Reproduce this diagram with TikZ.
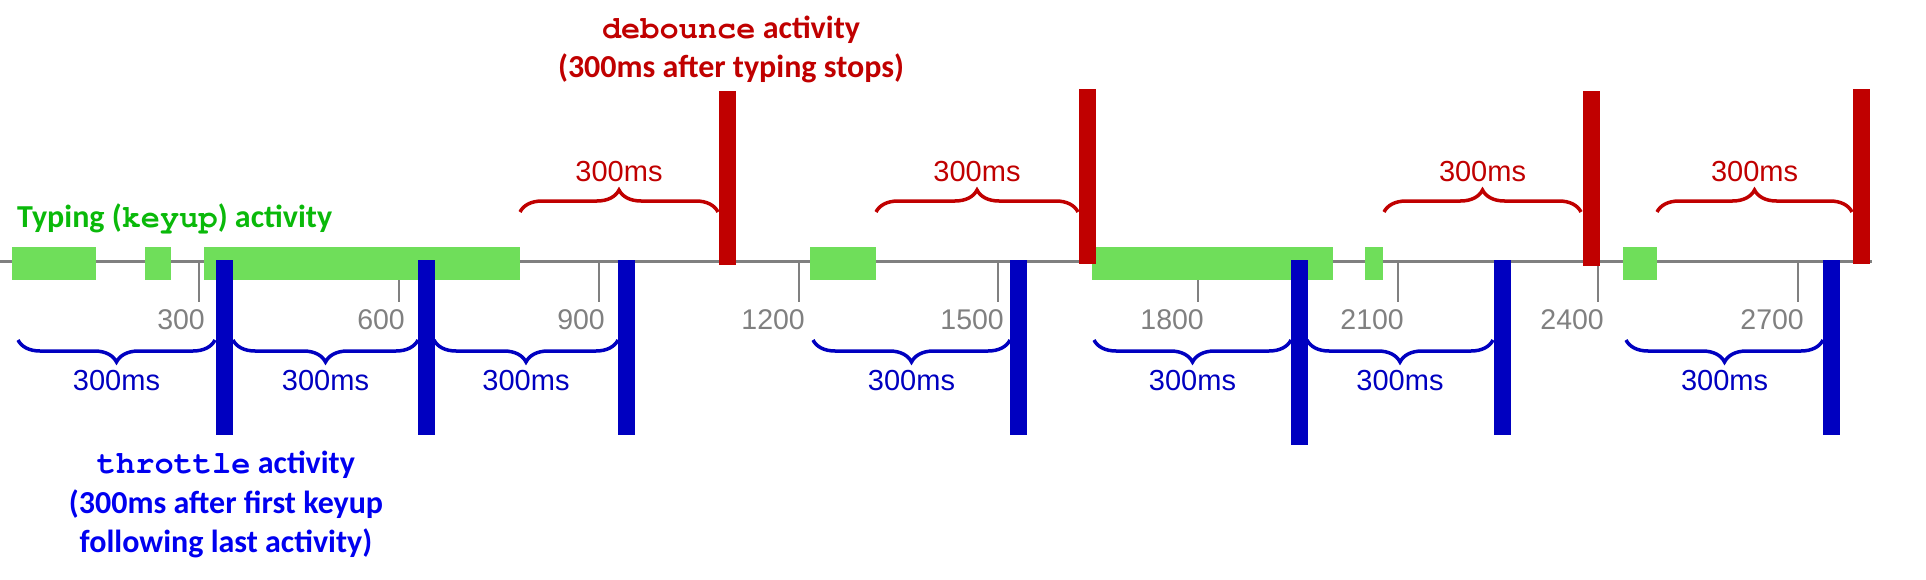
\documentclass[tikz,border=0pt]{standalone}
\usepackage{fontspec}
\setmainfont{Liberation Sans}
\newfontfamily\calib{Carlito}
\newfontfamily\cour{TeX Gyre Cursor}
\usetikzlibrary{decorations.pathreplacing}
\definecolor{axisgray}{RGB}{128,128,128}
\definecolor{typegreen}{RGB}{111,222,90}
\definecolor{typetext}{RGB}{10,185,10}
\definecolor{debred}{RGB}{192,0,0}
\definecolor{thrblue}{RGB}{0,0,192}
\definecolor{thrtext}{RGB}{0,0,240}
\tikzset{
  axisline/.style={draw=axisgray, line width=3.5pt},
  tickmark/.style={draw=axisgray, line width=2pt},
  ticklabel/.style={text=axisgray, inner sep=0pt, anchor=base east, font=\fontsize{28.5}{34}\selectfont},
  typebar/.style={fill=typegreen},
  debbar/.style={fill=debred},
  thrbar/.style={fill=thrblue},
  redbrace/.style={draw=debred, line width=3.5pt, decorate, decoration={brace, amplitude=22pt}},
  bluebrace/.style={draw=thrblue, line width=3.5pt, decorate, decoration={brace, amplitude=22pt, mirror}},
  redms/.style={text=debred, inner sep=0pt, anchor=base, font=\fontsize{29}{34}\selectfont},
  bluems/.style={text=thrblue, inner sep=0pt, anchor=base, font=\fontsize{29}{34}\selectfont},
  titletext/.style={inner sep=0pt, anchor=base, font=\fontsize{32}{38}\selectfont\calib\bfseries},
}
\begin{document}
\begin{tikzpicture}[x=1pt,y=-1pt]
\useasboundingbox (0,0) rectangle (1926,580);
% axis
\draw[axisline] (0,261.5) coordinate (axL) -- (1872,261.5) coordinate (axR);
% ticks and labels
\foreach \ms/\x in {300/199,600/399,900/599,1200/799,1500/998,1800/1198,2100/1398,2400/1598,2700/1798}{
  \draw[tickmark] (\x,261) -- (\x,302);
  \node[ticklabel] (t\ms) at (\x+6,329) {\ms};
}
% typing bars
\foreach \a/\b [count=\i] in {12/96,145/171,204/520,810/876,1092/1333,1365/1383,1623/1657}{
  \fill[typebar] (\a,247) rectangle (\b,280);
}
% debounce bars
\foreach \c/\t/\bt [count=\i] in {727/91/265,1087/89/264,1591/91/266,1861/89/264}{
  \fill[debbar] (\c-8.5,\t) rectangle (\c+8.5,\bt);
}
% throttle bars
\foreach \l/\bt [count=\i] in {215.5/435,418/435,618/435,1010/435,1291/445,1494/435,1823/435}{
  \fill[thrbar] (\l,260) rectangle (\l+17,\bt);
}
% red braces
\foreach \a/\b [count=\i] in {520/718,876/1078,1384/1581,1657/1852}{
  \draw[redbrace] (\a,212) -- (\b,212);
  \node[redms] (rl\i) at ({(\a+\b)/2},182) {300ms};
}
% blue braces
\foreach \a/\b [count=\i] in {18/215,233/418,434/618,813/1010,1094/1291,1307/1493,1626/1823}{
  \draw[bluebrace] (\a,340) -- (\b,340);
  \node[bluems] (bl\i) at ({(\a+\b)/2},390) {300ms};
}
% titles
\node[titletext, text=typetext, anchor=base west] (typing) at (17,227) {Typing ({\cour\bfseries keyup}) activity};
\node[titletext, text=debred] (deb1) at (731,38.5) {{\cour\bfseries debounce} activity};
\node[titletext, text=debred] (deb2) at (731,77.5) {(300ms after typing stops)};
\node[titletext, text=thrtext] (thr1) at (226,473) {{\cour\bfseries throttle} activity};
\node[titletext, text=thrtext] (thr2) at (226,513) {(300ms after first keyup};
\node[titletext, text=thrtext] (thr3) at (226,552) {following last activity)};
\end{tikzpicture}
\end{document}
